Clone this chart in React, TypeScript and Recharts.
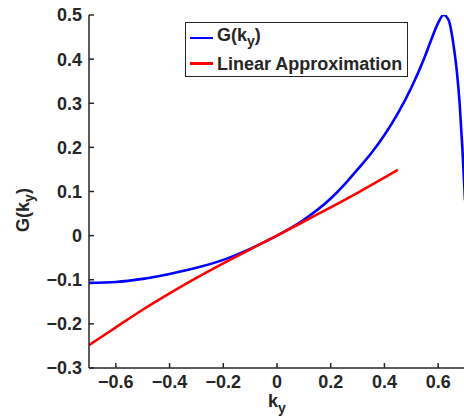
import { LineChart, Line, XAxis, YAxis, Legend } from 'recharts'

const blueX = [-0.7, -0.6, -0.5, -0.4, -0.3, -0.2, -0.1, 0, 0.1, 0.2, 0.25, 0.3, 0.35, 0.4, 0.45, 0.5, 0.55, 0.575, 0.6, 0.62, 0.64, 0.65, 0.66, 0.67, 0.68, 0.69, 0.7]
const blueY = [-0.107, -0.105, -0.098, -0.087, -0.073, -0.055, -0.03, 0, 0.036, 0.084, 0.115, 0.15, 0.186, 0.228, 0.277, 0.335, 0.405, 0.445, 0.482, 0.5, 0.487, 0.46, 0.42, 0.37, 0.3, 0.2, 0.08]

const redX = [-0.7, -0.6, -0.5, -0.4, -0.3, -0.2, -0.1, 0, 0.1, 0.2, 0.3, 0.45]
const redY = [-0.248, -0.208, -0.168, -0.131, -0.096, -0.063, -0.031, 0, 0.032, 0.064, 0.097, 0.149]

const xTicks = [-0.6, -0.4, -0.2, 0, 0.2, 0.4, 0.6]
const yTicks = [-0.3, -0.2, -0.1, 0, 0.1, 0.2, 0.3, 0.4, 0.5]

const blueData = blueX.map((x, i) => ({ x, y: blueY[i] }))
const redData = redX.map((x, i) => ({ x, y: redY[i] }))

const FONT = '"Liberation Sans", Arial, sans-serif'
const INK = '#262626'

const fmt = (v: number) => (v === 0 ? '0' : v.toFixed(1).replace('-', '\u2212'))
const blank = () => ''

const tickStyle = { fontFamily: FONT, fontSize: 18, fontWeight: 'bold', fill: INK }

const LegendBox = () => (
  <div style={{ border: `1px solid ${INK}`, background: '#fff', width: 223, height: 55, boxSizing: 'border-box', fontFamily: FONT, fontWeight: 'bold', fontSize: 18, color: INK, padding: '2px 0 0 4px', whiteSpace: 'nowrap' }}>
    {[{ c: '#0000ff', t: <>G(k<sub style={{ fontSize: 14 }}>y</sub>)</> }, { c: '#ff0000', t: <>Linear Approximation</> }].map((e, i) => (
      <div key={i} style={{ display: 'flex', alignItems: 'center', height: i === 0 ? 26 : 25 }}>
        <span style={{ width: 23, height: 2.5, background: e.c, marginRight: 4, flexShrink: 0 }} />
        <span style={{ lineHeight: '18px' }}>{e.t}</span>
      </div>
    ))}
  </div>
)

const XLabel = (p: any) => {
  const cx = p.viewBox.x + p.viewBox.width / 2
  return (
    <text x={cx} y={407} textAnchor="middle" fontFamily={FONT} fontWeight="bold" fontSize={18} fill={INK}>
      k<tspan fontSize={14} dy={6}>y</tspan>
    </text>
  )
}

const YLabel = () => (
  <text x={23} y={210} transform="rotate(-90, 23, 210)" textAnchor="middle" dominantBaseline="central" fontFamily={FONT} fontWeight="bold" fontSize={18} fill={INK}>
    G(k<tspan fontSize={14} dy={6}>y</tspan><tspan dy={-6}>)</tspan>
  </text>
)

export default function App() {
  return (
    <div style={{ position: 'absolute', left: 0, top: 0 }}>
      <LineChart width={464} height={420} margin={{ top: 15, right: -1, bottom: 0, left: 0 }}>
        <XAxis dataKey="x" type="number" domain={[-0.7, 0.7]} ticks={xTicks} tickFormatter={fmt} allowDataOverflow
          height={52} tickSize={-5} tickMargin={12} stroke={INK} strokeWidth={1.5} tick={tickStyle} label={{ content: XLabel }} />
        <XAxis xAxisId="top" orientation="top" dataKey="x" type="number" domain={[-0.7, 0.7]} ticks={xTicks} tickFormatter={blank}
          height={0} tickSize={-5} stroke={INK} strokeWidth={1.5} />
        <YAxis type="number" domain={[-0.3, 0.5]} ticks={yTicks} tickFormatter={fmt} allowDataOverflow
          width={89} tickSize={-5} tickMargin={12} stroke={INK} strokeWidth={1.5} tick={tickStyle} label={{ content: YLabel }} />
        <YAxis yAxisId="right" orientation="right" type="number" domain={[-0.3, 0.5]} ticks={yTicks} tickFormatter={blank}
          width={0} tickSize={-5} axisLine={false} stroke={INK} strokeWidth={1.5} />
        <Legend layout="vertical" align="center" verticalAlign="middle" content={LegendBox}
          wrapperStyle={{ top: 22, left: 185, width: 223 }} />
        <Line data={blueData} dataKey="y" name="G(ky)" type="monotone" stroke="#0000ff" strokeWidth={2.6} dot={false} isAnimationActive={false} />
        <Line data={redData} dataKey="y" name="Linear Approximation" type="monotone" stroke="#ff0000" strokeWidth={2.6} dot={false} isAnimationActive={false} />
      </LineChart>
    </div>
  )
}
